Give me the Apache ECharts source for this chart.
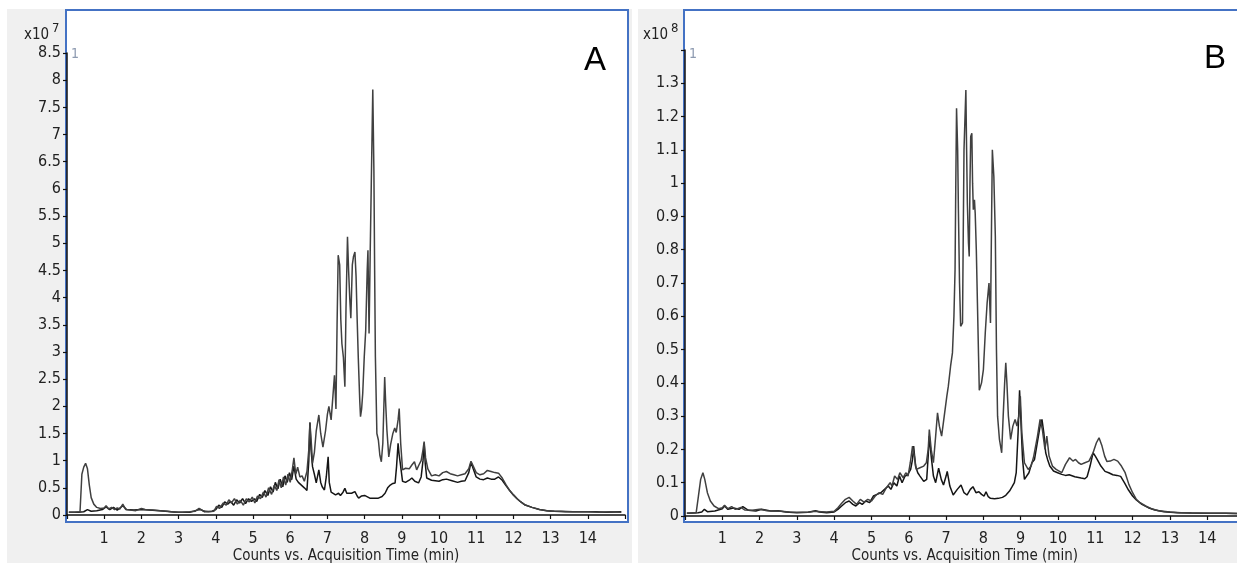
<!DOCTYPE html>
<html>
<head>
<meta charset="utf-8">
<script src="https://cdn.jsdelivr.net/npm/echarts@6/dist/echarts.min.js"></script>
<style>
  html, body { margin: 0; padding: 0; background: #fff; }
  #chart { width: 1237px; height: 563px; }
</style>
</head>
<body>
<div id="chart"></div>
<script>
// 时间轴 (min)
var timeTicks = [0, 15]
var panelLabels = ['A', 'B']
var yTicksA = [0, 8.5, 0.5]   // x10^7
var yTicksB = [0, 1.4, 0.1]   // x10^8

// Panel A, x10^7 counts: [time, value]
var traceA1 = [[0.05,0.05],[0.2,0.05],[0.35,0.06],[0.4,0.75],[0.45,0.88],[0.5,0.95],[0.55,0.85],[0.6,0.55],[0.65,0.32],[0.72,0.2],[0.8,0.14],[0.9,0.12],[1.0,0.13],[1.05,0.17],[1.12,0.11],[1.2,0.14],[1.28,0.1],[1.35,0.13],[1.42,0.11],[1.5,0.2],[1.58,0.1],[1.7,0.09],[1.85,0.08],[2.0,0.12],[2.1,0.1],[2.3,0.09],[2.5,0.08],[2.7,0.07],[2.9,0.05],[3.1,0.05],[3.3,0.06],[3.45,0.07],[3.55,0.12],[3.65,0.08],[3.8,0.06],[3.95,0.07],[4.02,0.16],[4.1,0.12],[4.2,0.22],[4.28,0.18],[4.35,0.28],[4.42,0.22],[4.5,0.3],[4.58,0.2],[4.66,0.27],[4.74,0.18],[4.82,0.3],[4.9,0.24],[4.98,0.33],[5.05,0.22],[5.12,0.35],[5.2,0.3],[5.28,0.42],[5.35,0.33],[5.42,0.5],[5.5,0.38],[5.57,0.55],[5.64,0.45],[5.7,0.65],[5.76,0.5],[5.82,0.7],[5.88,0.55],[5.94,0.75],[6.0,0.6],[6.06,0.85],[6.1,1.05],[6.15,0.75],[6.2,0.88],[6.26,0.7],[6.32,0.72],[6.38,0.62],[6.45,0.8],[6.5,1.2],[6.53,1.7],[6.57,1.3],[6.6,0.95],[6.65,1.15],[6.7,1.55],[6.77,1.84],[6.82,1.5],[6.88,1.25],[6.95,1.55],[7.0,1.85],[7.04,2.0],[7.1,1.75],[7.15,2.2],[7.19,2.57],[7.23,1.95],[7.26,3.5],[7.29,4.78],[7.33,4.6],[7.36,3.6],[7.39,3.15],[7.43,2.9],[7.47,2.36],[7.5,3.8],[7.54,5.12],[7.57,4.5],[7.6,4.0],[7.63,3.62],[7.67,4.6],[7.7,4.75],[7.74,4.84],[7.77,4.4],[7.8,3.6],[7.83,2.9],[7.87,2.1],[7.89,1.81],[7.92,1.95],[7.95,2.24],[7.99,2.9],[8.03,3.4],[8.07,4.5],[8.09,4.87],[8.12,3.34],[8.15,4.8],[8.18,6.1],[8.22,7.83],[8.25,6.34],[8.27,4.5],[8.29,2.91],[8.33,1.5],[8.37,1.38],[8.41,1.1],[8.45,0.98],[8.49,1.32],[8.54,2.54],[8.57,2.0],[8.6,1.56],[8.65,1.07],[8.7,1.3],[8.76,1.5],[8.81,1.6],[8.85,1.52],[8.9,1.75],[8.93,1.96],[8.97,1.32],[9.02,0.83],[9.1,0.86],[9.2,0.85],[9.27,0.92],[9.34,0.98],[9.4,0.83],[9.46,0.92],[9.52,1.0],[9.57,1.2],[9.6,1.35],[9.64,1.05],[9.7,0.85],[9.8,0.72],[9.9,0.74],[10.0,0.72],[10.1,0.78],[10.2,0.8],[10.3,0.76],[10.4,0.74],[10.5,0.72],[10.6,0.74],[10.7,0.76],[10.8,0.85],[10.86,0.99],[10.92,0.9],[11.0,0.78],[11.1,0.74],[11.2,0.76],[11.3,0.82],[11.4,0.8],[11.5,0.78],[11.6,0.77],[11.7,0.68],[11.8,0.56],[11.9,0.45],[12.0,0.37],[12.1,0.3],[12.2,0.24],[12.3,0.19],[12.5,0.14],[12.7,0.1],[12.9,0.08],[13.0,0.07],[13.3,0.07],[13.6,0.06],[14.0,0.06],[14.3,0.05],[14.6,0.06],[14.9,0.05]]
var traceA2 = [[0.05,0.05],[0.3,0.05],[0.45,0.06],[0.55,0.1],[0.65,0.07],[0.8,0.08],[0.95,0.1],[1.05,0.15],[1.15,0.1],[1.25,0.14],[1.35,0.09],[1.5,0.17],[1.6,0.1],[1.8,0.09],[2.0,0.1],[2.2,0.09],[2.5,0.08],[2.8,0.06],[3.0,0.05],[3.3,0.05],[3.5,0.09],[3.6,0.1],[3.7,0.06],[3.9,0.07],[4.0,0.1],[4.08,0.18],[4.16,0.14],[4.24,0.24],[4.32,0.2],[4.4,0.25],[4.48,0.18],[4.56,0.28],[4.64,0.22],[4.72,0.3],[4.8,0.21],[4.88,0.3],[4.96,0.25],[5.04,0.3],[5.1,0.25],[5.18,0.38],[5.25,0.32],[5.32,0.45],[5.4,0.36],[5.47,0.52],[5.54,0.42],[5.6,0.6],[5.67,0.48],[5.73,0.66],[5.8,0.52],[5.86,0.72],[5.92,0.6],[5.98,0.78],[6.04,0.65],[6.1,0.9],[6.16,0.66],[6.22,0.6],[6.3,0.55],[6.38,0.5],[6.45,0.45],[6.5,1.0],[6.53,1.7],[6.56,1.2],[6.6,0.89],[6.65,0.75],[6.7,0.59],[6.77,0.83],[6.82,0.6],[6.86,0.52],[6.92,0.46],[6.97,0.7],[7.02,1.07],[7.05,0.6],[7.1,0.42],[7.22,0.37],[7.3,0.4],[7.35,0.36],[7.42,0.42],[7.47,0.49],[7.52,0.4],[7.56,0.37],[7.65,0.4],[7.74,0.43],[7.8,0.35],[7.84,0.31],[7.92,0.35],[8.0,0.36],[8.05,0.33],[8.14,0.31],[8.25,0.31],[8.37,0.31],[8.47,0.34],[8.55,0.4],[8.62,0.5],[8.69,0.55],[8.76,0.58],[8.82,0.59],[8.86,0.9],[8.9,1.32],[8.93,1.1],[8.96,0.95],[9.02,0.62],[9.1,0.6],[9.2,0.64],[9.27,0.68],[9.35,0.62],[9.45,0.59],[9.52,0.7],[9.57,1.0],[9.6,1.32],[9.63,0.95],[9.67,0.68],[9.8,0.64],[10.0,0.62],[10.1,0.65],[10.2,0.66],[10.35,0.63],[10.5,0.6],[10.6,0.62],[10.7,0.63],[10.8,0.78],[10.86,0.97],[10.92,0.85],[11.0,0.7],[11.1,0.66],[11.2,0.65],[11.3,0.68],[11.4,0.66],[11.5,0.66],[11.6,0.7],[11.65,0.72],[11.7,0.64],[11.8,0.54],[11.9,0.45],[12.0,0.37],[12.1,0.3],[12.2,0.24],[12.3,0.19],[12.5,0.14],[12.7,0.1],[12.9,0.08],[13.1,0.07],[13.4,0.06],[13.8,0.06],[14.2,0.06],[14.5,0.05],[14.9,0.06]]

// Panel B, x10^8 counts
var traceB1 = [[0.05,0.008],[0.3,0.01],[0.36,0.06],[0.42,0.11],[0.48,0.13],[0.53,0.11],[0.6,0.07],[0.68,0.045],[0.78,0.03],[0.9,0.022],[1.0,0.025],[1.06,0.032],[1.15,0.022],[1.25,0.028],[1.35,0.02],[1.5,0.026],[1.6,0.018],[1.8,0.017],[2.0,0.02],[2.2,0.016],[2.5,0.015],[2.8,0.012],[3.0,0.011],[3.3,0.011],[3.5,0.014],[3.55,0.02],[3.65,0.013],[3.8,0.012],[4.0,0.014],[4.1,0.025],[4.2,0.038],[4.3,0.05],[4.4,0.056],[4.5,0.045],[4.6,0.035],[4.7,0.05],[4.8,0.042],[4.9,0.05],[5.0,0.045],[5.1,0.06],[5.2,0.07],[5.3,0.065],[5.4,0.085],[5.5,0.1],[5.55,0.09],[5.62,0.12],[5.7,0.11],[5.76,0.13],[5.85,0.115],[5.92,0.13],[5.98,0.12],[6.04,0.16],[6.1,0.21],[6.15,0.18],[6.2,0.14],[6.3,0.145],[6.4,0.15],[6.47,0.16],[6.52,0.2],[6.55,0.26],[6.6,0.2],[6.66,0.16],[6.72,0.24],[6.77,0.31],[6.82,0.27],[6.88,0.24],[6.95,0.3],[7.02,0.36],[7.06,0.39],[7.12,0.45],[7.17,0.49],[7.21,0.6],[7.24,0.74],[7.26,1.0],[7.28,1.225],[7.31,1.1],[7.33,0.92],[7.36,0.7],[7.39,0.57],[7.44,0.58],[7.46,0.85],[7.48,1.1],[7.53,1.28],[7.55,1.1],[7.57,0.94],[7.6,0.82],[7.62,0.78],[7.64,1.0],[7.66,1.14],[7.69,1.15],[7.71,1.0],[7.73,0.92],[7.76,0.95],[7.78,0.91],[7.81,0.8],[7.84,0.64],[7.87,0.48],[7.89,0.378],[7.95,0.4],[8.0,0.44],[8.05,0.55],[8.1,0.64],[8.15,0.7],[8.19,0.58],[8.22,0.9],[8.24,1.1],[8.28,1.02],[8.32,0.84],[8.35,0.5],[8.38,0.3],[8.43,0.23],[8.49,0.19],[8.53,0.3],[8.57,0.4],[8.6,0.46],[8.63,0.4],[8.67,0.3],[8.73,0.23],[8.79,0.27],[8.85,0.29],[8.9,0.27],[8.95,0.3],[8.99,0.36],[9.03,0.25],[9.1,0.16],[9.2,0.14],[9.28,0.15],[9.35,0.18],[9.45,0.24],[9.52,0.29],[9.58,0.26],[9.65,0.2],[9.7,0.24],[9.76,0.18],[9.85,0.15],[9.95,0.14],[10.1,0.13],[10.2,0.155],[10.31,0.175],[10.4,0.165],[10.47,0.17],[10.55,0.16],[10.62,0.155],[10.72,0.16],[10.83,0.165],[10.94,0.19],[11.03,0.22],[11.1,0.235],[11.18,0.21],[11.25,0.18],[11.31,0.164],[11.4,0.165],[11.5,0.17],[11.6,0.165],[11.7,0.15],[11.8,0.13],[11.9,0.095],[12.0,0.07],[12.1,0.05],[12.2,0.04],[12.35,0.03],[12.5,0.022],[12.7,0.016],[13.0,0.012],[13.3,0.01],[13.7,0.009],[14.1,0.008],[14.5,0.008],[14.9,0.007]]
var traceB2 = [[0.05,0.008],[0.35,0.01],[0.45,0.012],[0.52,0.02],[0.6,0.013],[0.8,0.015],[1.0,0.022],[1.06,0.03],[1.15,0.02],[1.3,0.024],[1.45,0.02],[1.55,0.028],[1.7,0.017],[1.9,0.015],[2.05,0.02],[2.3,0.015],[2.5,0.016],[2.7,0.012],[3.0,0.01],[3.3,0.011],[3.5,0.016],[3.6,0.012],[3.8,0.01],[4.0,0.012],[4.1,0.02],[4.2,0.03],[4.3,0.04],[4.4,0.045],[4.5,0.035],[4.58,0.03],[4.68,0.04],[4.75,0.035],[4.85,0.045],[4.95,0.04],[5.05,0.06],[5.15,0.065],[5.25,0.07],[5.35,0.08],[5.45,0.09],[5.52,0.08],[5.6,0.1],[5.68,0.09],[5.75,0.12],[5.82,0.1],[5.9,0.12],[5.97,0.124],[6.05,0.14],[6.1,0.17],[6.13,0.21],[6.18,0.15],[6.24,0.13],[6.3,0.12],[6.4,0.104],[6.48,0.11],[6.52,0.18],[6.55,0.24],[6.6,0.18],[6.66,0.12],[6.72,0.1],[6.8,0.144],[6.87,0.11],[6.93,0.093],[7.0,0.12],[7.03,0.134],[7.1,0.09],[7.19,0.063],[7.3,0.08],[7.4,0.093],[7.48,0.07],[7.56,0.063],[7.65,0.08],[7.72,0.088],[7.8,0.07],[7.88,0.073],[7.95,0.065],[8.02,0.06],[8.07,0.073],[8.13,0.058],[8.19,0.053],[8.3,0.052],[8.4,0.053],[8.51,0.056],[8.6,0.062],[8.7,0.075],[8.77,0.088],[8.83,0.1],[8.88,0.13],[8.93,0.25],[8.97,0.378],[9.0,0.3],[9.05,0.17],[9.1,0.11],[9.14,0.104],[9.22,0.13],[9.3,0.16],[9.37,0.17],[9.46,0.23],[9.52,0.27],[9.57,0.29],[9.62,0.25],[9.67,0.19],[9.72,0.17],[9.78,0.15],[9.88,0.135],[9.99,0.13],[10.1,0.125],[10.2,0.122],[10.3,0.124],[10.45,0.118],[10.62,0.114],[10.72,0.112],[10.78,0.118],[10.86,0.15],[10.94,0.19],[11.0,0.18],[11.05,0.17],[11.15,0.15],[11.26,0.134],[11.36,0.13],[11.47,0.124],[11.58,0.122],[11.68,0.119],[11.78,0.1],[11.89,0.078],[12.0,0.06],[12.1,0.048],[12.25,0.035],[12.42,0.025],[12.6,0.018],[12.84,0.013],[13.2,0.01],[13.58,0.009],[14.0,0.008],[14.5,0.008],[14.9,0.007]]

var FONT = "'Liberation Sans Narrow', 'DejaVu Sans Condensed', 'Liberation Sans', sans-serif"
var BLUE = '#4472c4'

function frameAxis(idx) {
  return { type: 'value', gridIndex: idx, show: false, min: 0, max: 1 }
}

function timeAxis(idx, offset) {
  return {
    type: 'value', gridIndex: idx, min: timeTicks[0], max: timeTicks[1], interval: 1,
    offset: offset,
    name: 'Counts vs. Acquisition Time (min)',
    nameLocation: 'middle', nameGap: 24, nameMoveOverlap: false,
    nameTextStyle: { fontFamily: FONT, fontSize: 15, color: '#222' },
    splitLine: { show: false },
    axisLine: { show: true, lineStyle: { color: '#111', width: 1.5 } },
    axisTick: { show: true, length: 4, lineStyle: { color: '#111', width: 1.2 } },
    axisLabel: {
      fontFamily: FONT, fontSize: 16, color: '#222', margin: 6,
      formatter: function (v) { return (v === timeTicks[0] || v === timeTicks[1]) ? '' : String(v) }
    }
  }
}

function countAxis(idx, ticks, hideTop) {
  return {
    type: 'value', gridIndex: idx, min: ticks[0], max: ticks[1], interval: ticks[2],
    splitLine: { show: false },
    axisLine: { show: true, lineStyle: { color: '#111', width: 1.5 } },
    axisTick: { show: true, length: 4, lineStyle: { color: '#111', width: 1.2 } },
    axisLabel: {
      fontFamily: FONT, fontSize: 16, color: '#222', margin: 6,
      formatter: function (v) {
        if (hideTop && Math.abs(v - ticks[1]) < 1e-6) return ''
        return String(+v.toFixed(2))
      }
    }
  }
}

function trace(data, idx, color) {
  return {
    type: 'line', data: data, xAxisIndex: idx, yAxisIndex: idx,
    showSymbol: false, symbol: 'none', clip: false, silent: true,
    lineStyle: { color: color, width: 1.5 }
  }
}

// v6: 关闭 outerBounds 自动收缩
function grid(l, t, w, h, frame) {
  var g = { left: l, top: t, width: w, height: h, containLabel: false, outerBoundsMode: 'none' }
  if (frame) {
    g.show = true
    g.backgroundColor = '#fff'
    g.borderColor = BLUE
    g.borderWidth = 2
  }
  return g
}

var chart = echarts.init(document.getElementById('chart'), null, { renderer: 'canvas' })
chart.setOption({
  animation: false,
  backgroundColor: '#fff',
  grid: [
    grid(66, 10, 562, 512, true),
    grid(67, 53, 558, 462, false),
    grid(684, 10, 570, 512, true),
    grid(685, 50, 559.5, 466, false)
  ],
  xAxis: [frameAxis(0), timeAxis(1, 10), frameAxis(2), timeAxis(3, 9)],
  yAxis: [frameAxis(0), countAxis(1, yTicksA, false), frameAxis(2), countAxis(3, yTicksB, true)],
  series: [
    trace(traceA2, 1, '#151515'),
    trace(traceA1, 1, '#404040'),
    trace(traceB2, 3, '#151515'),
    trace(traceB1, 3, '#404040')
  ],
  graphic: [
    { type: 'rect', z: -5, silent: true, shape: { x: 7, y: 9, width: 625, height: 554 }, style: { fill: '#f0f0f0' } },
    { type: 'rect', z: -5, silent: true, shape: { x: 638, y: 9, width: 599, height: 554 }, style: { fill: '#f0f0f0' } },
    { type: 'text', z: 20, left: 24, top: 28, style: { text: 'x10', font: '15px ' + FONT, fill: '#222' } },
    { type: 'text', z: 20, left: 52, top: 22, style: { text: '7', font: '13px ' + FONT, fill: '#222' } },
    { type: 'text', z: 20, left: 643, top: 28, style: { text: 'x10', font: '15px ' + FONT, fill: '#222' } },
    { type: 'text', z: 20, left: 671, top: 22, style: { text: '8', font: '13px ' + FONT, fill: '#222' } },
    { type: 'text', z: 20, left: 71, top: 47, style: { text: '1', font: '14px ' + FONT, fill: '#8d9ab0' } },
    { type: 'text', z: 20, left: 689, top: 47, style: { text: '1', font: '14px ' + FONT, fill: '#8d9ab0' } },
    { type: 'text', z: 20, left: 584, top: 44, style: { text: panelLabels[0], font: '33px "Liberation Sans", Arial, sans-serif', fill: '#000' } },
    { type: 'text', z: 20, left: 1204, top: 42, style: { text: panelLabels[1], font: '33px "Liberation Sans", Arial, sans-serif', fill: '#000' } }
  ]
})
</script>
</body>
</html>
